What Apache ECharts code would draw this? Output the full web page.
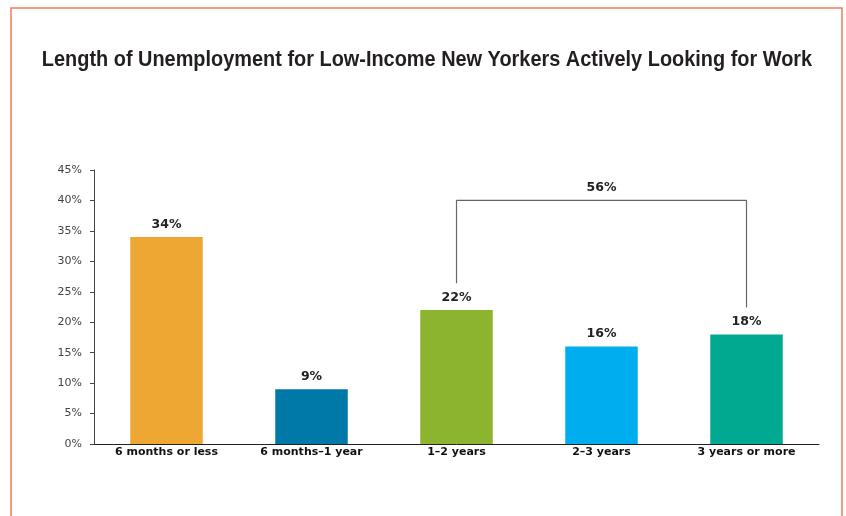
<!DOCTYPE html>
<html>
<head>
<meta charset="utf-8">
<script src="https://cdn.jsdelivr.net/npm/echarts@6/dist/echarts.min.js"></script>
<style>
  html, body { margin: 0; padding: 0; background: #ffffff; }
  #chart { width: 846px; height: 516px; }
</style>
</head>
<body>
<div id="chart"></div>
<script>
// Duration categories and share of job seekers in each (percent)
const categories = ['6 months or less', '6 months\u20131 year', '1\u20132 years', '2\u20133 years', '3 years or more'];
const shares = [34, 9, 22, 16, 18];
const barColors = ['#EFA733', '#0079A9', '#8DB42F', '#00AEEF', '#00A98F'];
const yTicks = [0, 5, 10, 15, 20, 25, 30, 35, 40, 45];
const chartTitle = 'Length of Unemployment for Low-Income New Yorkers Actively Looking for Work';

// Bracket grouping the three longest durations (index range 2..4)
const groupStart = 2;
const groupEnd = 4;
const bracketTop = 40;
const bracketGap = 4.4;
const groupTotal = shares.slice(groupStart, groupEnd + 1).reduce((a, b) => a + b, 0);

const labelFont = '"DejaVu Sans", Verdana, sans-serif';

const chart = echarts.init(document.getElementById('chart'));

// Bracket path on a hidden 0..N value axis so it can sit at category centres
const bracketData = [
  [groupStart + 0.5, shares[groupStart] + bracketGap],
  [groupStart + 0.5, bracketTop],
  [groupEnd + 0.5, bracketTop],
  [groupEnd + 0.5, shares[groupEnd] + bracketGap]
];

chart.setOption({
  animation: false,
  graphic: [{
    type: 'rect',
    shape: { x: 11, y: 8, width: 831, height: 540 },
    style: { fill: 'none', stroke: '#EE7C5B', lineWidth: 1.5 },
    silent: true
  }, {
    type: 'text',
    x: 427,
    y: 60,
    originX: 0,
    originY: 0,
    scaleX: 0.905,
    style: {
      text: chartTitle,
      x: 0,
      y: 0,
      textAlign: 'center',
      textVerticalAlign: 'middle',
      fill: '#231F20',
      font: 'bold 22px "Liberation Sans", Arial, sans-serif'
    },
    silent: true
  }],
  grid: { left: 94, right: 27, top: 170, bottom: 72 },
  xAxis: [{
    type: 'category',
    data: categories,
    axisLine: { lineStyle: { color: '#222', width: 1 } },
    axisTick: { show: false },
    axisLabel: {
      color: '#111',
      fontFamily: labelFont,
      fontWeight: 'bold',
      fontSize: 11,
      margin: 3
    }
  }, {
    type: 'value',
    min: 0,
    max: categories.length,
    show: false
  }],
  yAxis: {
    type: 'value',
    min: yTicks[0],
    max: yTicks[yTicks.length - 1],
    interval: 5,
    splitLine: { show: false },
    axisLine: { show: true, lineStyle: { color: '#444', width: 1 } },
    axisTick: { show: true, length: 4, lineStyle: { color: '#444' } },
    axisLabel: {
      color: '#444',
      fontFamily: labelFont,
      fontSize: 11,
      margin: 12,
      formatter: v => v + '%'
    }
  },
  series: [{
    type: 'bar',
    xAxisIndex: 0,
    barWidth: '50%',
    data: shares.map((v, i) => ({ value: v, itemStyle: { color: barColors[i] } })),
    label: {
      show: true,
      position: 'top',
      distance: 6,
      formatter: p => p.value + '%',
      color: '#222',
      fontFamily: labelFont,
      fontWeight: 'bold',
      fontSize: 12.5
    }
  }, {
    type: 'line',
    xAxisIndex: 1,
    data: bracketData,
    symbol: 'none',
    lineStyle: { color: '#666', width: 1.2 },
    silent: true,
    z: 1
  }, {
    // group total written above the bracket
    type: 'scatter',
    xAxisIndex: 1,
    data: [[(groupStart + groupEnd) / 2 + 0.5, bracketTop]],
    symbolSize: 1,
    itemStyle: { opacity: 1, color: 'rgba(0,0,0,0)' },
    label: {
      show: true,
      position: 'top',
      distance: 6,
      formatter: () => groupTotal + '%',
      color: '#222',
      fontFamily: labelFont,
      fontWeight: 'bold',
      fontSize: 12.5
    },
    silent: true
  }]
});
</script>
</body>
</html>
